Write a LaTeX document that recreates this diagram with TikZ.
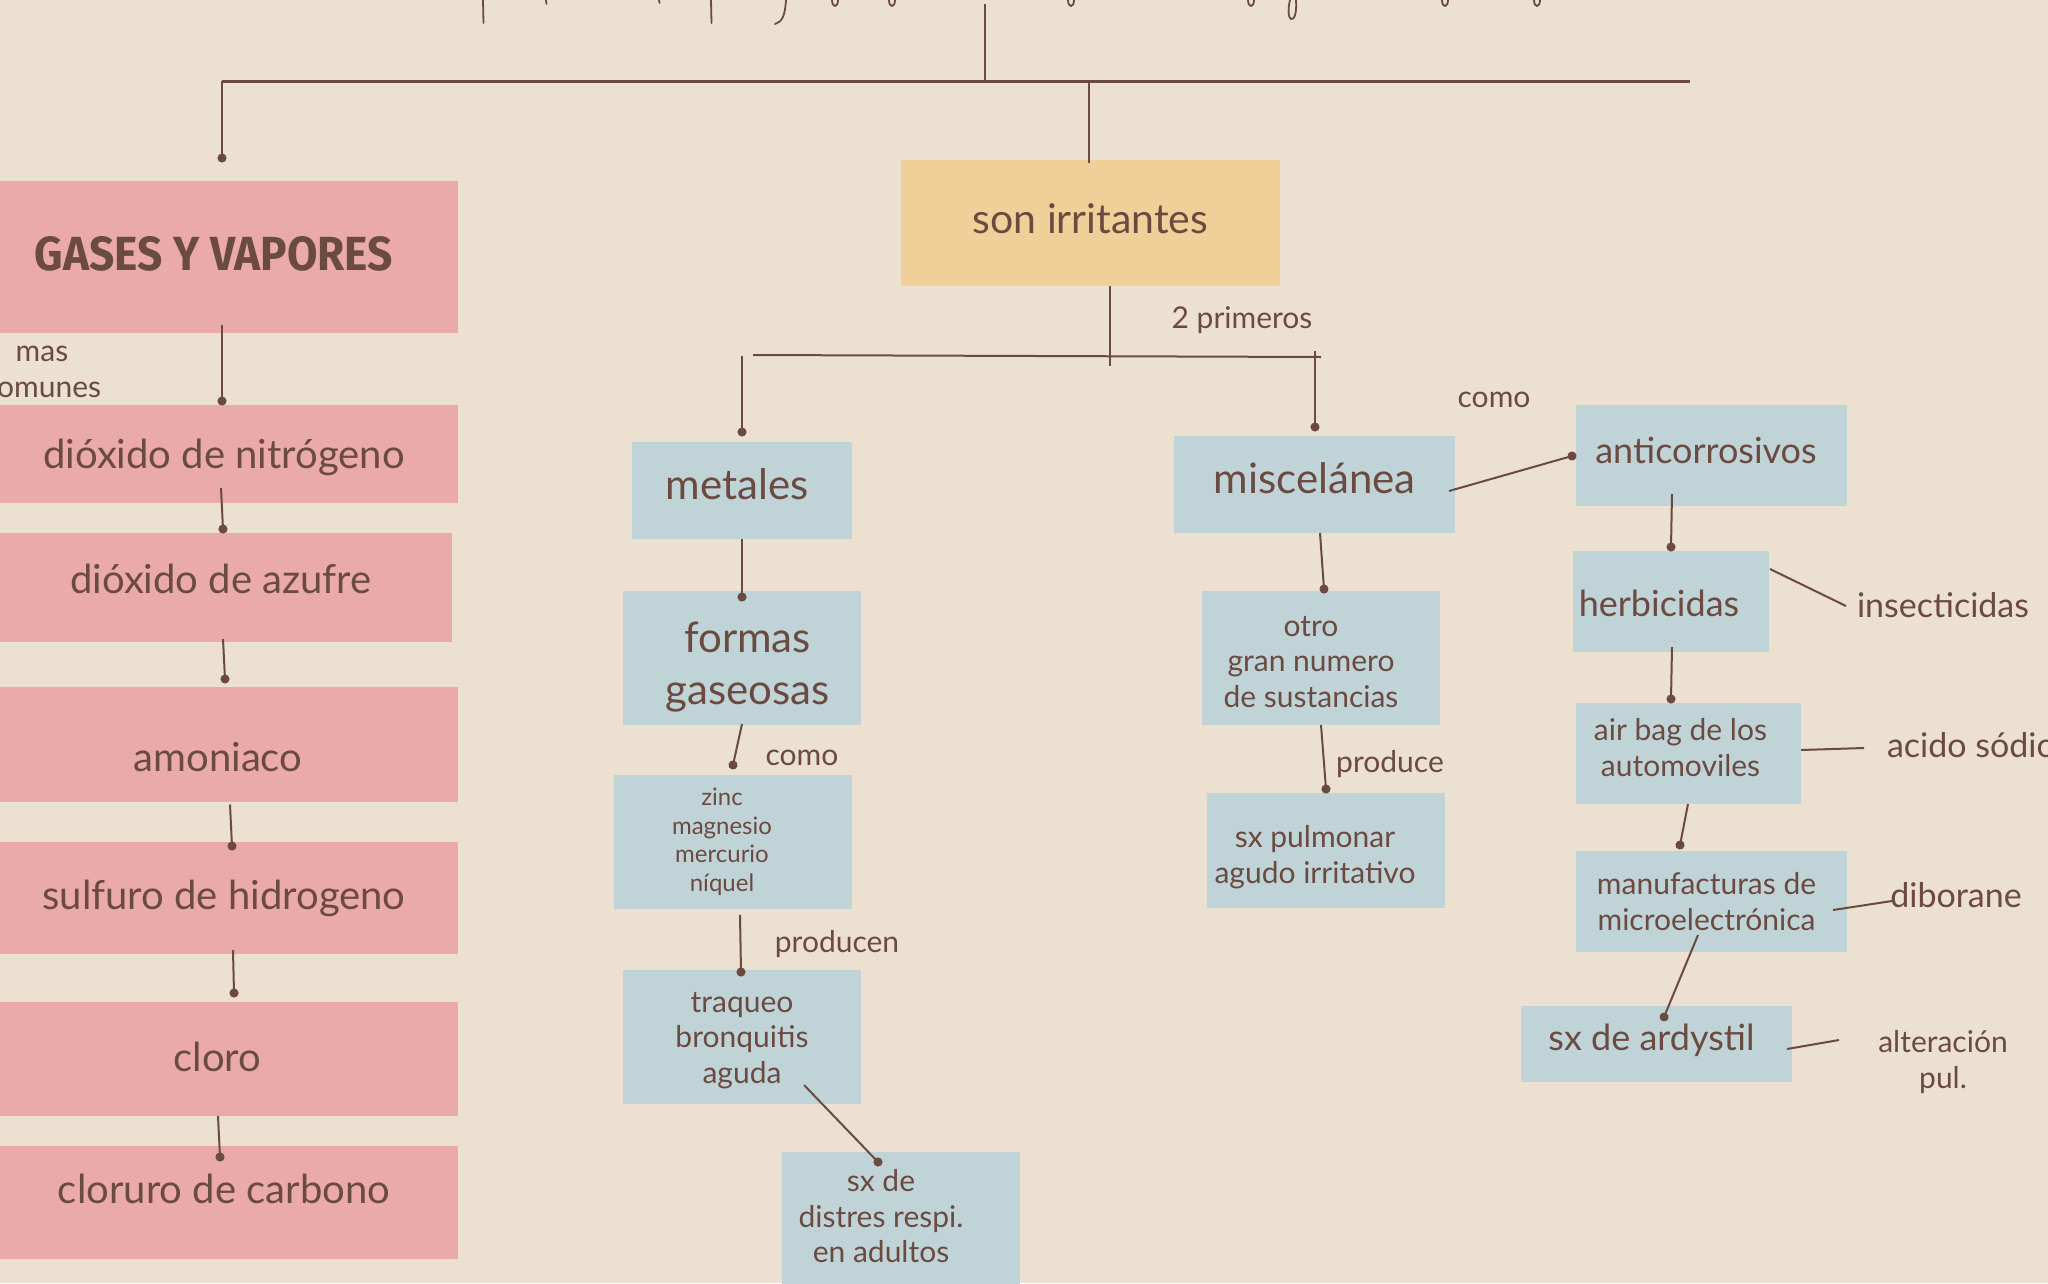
\documentclass[tikz,border=0pt]{standalone}
\usepackage{fontspec}
\setmainfont{Lato}
\newfontfamily\headfont{Fira Sans}
\usetikzlibrary{arrows.meta}
\definecolor{bgc}{HTML}{ECE0D0}
\definecolor{pinkc}{HTML}{EAAAA8}
\definecolor{bluec}{HTML}{C0D4D7}
\definecolor{yelc}{HTML}{EFD098}
\definecolor{ink}{HTML}{6B4A42}
\newcommand\fsPink{\fontsize{40}{48}\selectfont}
\newcommand\fsSon{\fontsize{41}{48}\selectfont}
\newcommand\fsBig{\fontsize{42}{52}\selectfont}
\newcommand\fsMid{\fontsize{36}{43}\selectfont}
\newcommand\fsIns{\fontsize{34}{40}\selectfont}
\newcommand\fsBox{\fontsize{30}{35.5}\selectfont}
\newcommand\fsLab{\fontsize{30}{36}\selectfont}
\newcommand\fsZinc{\fontsize{24}{28.5}\selectfont}
\tikzset{
  every node/.style={text=ink, inner sep=0pt, outer sep=0pt},
  pinkbox/.style={fill=pinkc, font=\fsPink, minimum width=468},
  bluebox/.style={fill=bluec, align=center},
  lbl/.style={font=\fsLab, align=center},
  conn/.style={draw=ink, line width=2pt},
  dotc/.style={conn, -{Circle[length=9pt,width=9pt]}, shorten >=-4.5pt},
  scribble/.style={draw=ink, line width=1.8pt, line cap=round},
}
\begin{document}
\begin{tikzpicture}[x=1pt,y=-1pt]
\useasboundingbox (0,0) rectangle (2048,1283);
\fill[bgc] (0,0) rectangle (2048,1283);
\clip (0,0) rectangle (2048,1283);

% descenders of the (cut off) handwritten title
\draw[scribble] (483,0) -- (483.5,23);
\draw[scribble] (546,0) -- (546.5,4);
\draw[scribble] (659,0) -- (659.5,3);
\draw[scribble] (711,0) -- (711.5,23);
\draw[scribble] (786,0) .. controls (785,16) and (782,22) .. (775,24);
\foreach \xx in {835,892,1071,1251,1445,1537}
  \draw[scribble] (\xx-3,0) .. controls (\xx-3,8) and (\xx+3,8) .. (\xx+3,0);
\draw[scribble] (1296,0) .. controls (1297,14) and (1294,20) .. (1291,19) .. controls (1288,18) and (1288,8) .. (1290,0);

% coordinates of the bars
\coordinate (ttop) at (985,4);
\coordinate (tbar) at (985,81);
\coordinate (barL) at (222,81);
\coordinate (barR) at (1690,81);
\coordinate (barS) at (1089,81);
\coordinate (brL) at (753,355);
\coordinate (brR) at (1321,357);
\coordinate (brX) at (1110,366);
\coordinate (brLv) at (742,356);
\coordinate (brRv) at (1315,351);

% left column
\node[pinkbox, minimum height=152, text height=43pt, text depth=17pt] (gases) at (224,257)
  {\hspace*{-20pt}\resizebox{358pt}{34pt}{\headfont\bfseries GASES Y VAPORES}};
\node[pinkbox, minimum height=98, text height=44pt, text depth=16pt] (n1) at (224,454) {dióxido de nitrógeno};
\node[pinkbox, minimum width=462, minimum height=109, text height=35.5pt, text depth=24.5pt] (n2) at (221,587.5) {dióxido de azufre};
\node[pinkbox, minimum height=115, text height=57pt, text depth=3pt] (n3) at (224,744.5) {\hspace*{-12pt}amoniaco};
\node[pinkbox, minimum height=112, text height=41pt, text depth=19pt] (n4) at (224,898) {sulfuro de hidrogeno};
\node[pinkbox, minimum height=114, text height=42pt, text depth=18pt] (n5) at (224,1059) {\hspace*{-13pt}cloro};
\node[pinkbox, minimum height=113, text height=30.5pt, text depth=29.5pt] (n6) at (224,1202.5) {cloruro de carbono};
\node[lbl] (mascom) at (42,372) {mas\\comunes};

% centre
\node[fill=yelc, font=\fsSon, minimum width=379, minimum height=126, text height=40pt, text depth=20pt] (son) at (1090.5,223) {son irritantes};
\node[lbl, anchor=base] (dosp) at (1242,328) {2 primeros};

\node[bluebox, font=\fsBig, minimum width=220, minimum height=97, text height=38.5pt, text depth=21.5pt] (metales) at (742,490.5) {\hspace*{-10pt}metales};
\node[bluebox, font=\fsBig, minimum width=238, minimum height=134] (formas) at (742,658)
  {\rule{0pt}{48pt}\hspace*{11pt}formas\\\hspace*{11pt}gaseosas};
\node[lbl, anchor=base] (como2) at (802,765) {como};
\node[bluebox, font=\fsZinc, minimum width=238, minimum height=134] (zinc) at (733,842)
  {\hspace*{-22pt}zinc\\\hspace*{-22pt}magnesio\\\hspace*{-22pt}mercurio\\\hspace*{-22pt}níquel};
\node[lbl, anchor=base] (producen) at (837,952) {producen};
\node[bluebox, font=\fsBox, minimum width=238, minimum height=134] (traq) at (742,1037)
  {\rule{0pt}{27pt}traqueo\\bronquitis\\aguda};
\node[bluebox, font=\fsBox, minimum width=238, minimum height=138] (sxd) at (901,1221)
  {\hspace*{-40pt}sx de\\\hspace*{-40pt}distres respi.\\\hspace*{-40pt}en adultos\rule[-10pt]{0pt}{10pt}};

\node[bluebox, font=\fsBig, minimum width=281, minimum height=97, text height=38.5pt, text depth=21.5pt] (misc) at (1314.5,484.5) {miscelánea};
\node[bluebox, font=\fsBox, minimum width=238, minimum height=134] (otro) at (1321,658)
  {\rule{0pt}{28pt}\hspace*{-20pt}otro\\\hspace*{-20pt}gran numero\\\hspace*{-20pt}de sustancias};
\node[lbl, anchor=base] (produce) at (1390,772) {produce};
\node[bluebox, font=\fsBox, minimum width=238, minimum height=115] (sxpul) at (1326,850.5)
  {\rule{0pt}{35pt}\hspace*{-22pt}sx pulmonar\\\hspace*{-22pt}agudo irritativo};

% right column
\node[lbl, anchor=base] (como1) at (1494,407) {como};
\node[bluebox, font=\fsMid, minimum width=271, minimum height=101, text height=37.5pt, text depth=22.5pt] (anti) at (1711.5,455.5) {\hspace*{-11pt}anticorrosivos};
\node[bluebox, font=\fsMid, minimum width=196, minimum height=101, text height=44.5pt, text depth=15.5pt] (herb) at (1671,601.5) {\hspace*{-24pt}herbicidas};
\node[lbl, font=\fsIns, anchor=base] (insect) at (1943,617) {insecticidas};
\node[bluebox, font=\fsBox, minimum width=225, minimum height=101] (airbag) at (1688.5,753.5)
  {\hspace*{-16pt}air bag de los\\\hspace*{-16pt}automoviles\rule[-12pt]{0pt}{12pt}};
\node[lbl, font=\fsIns, anchor=base west] (acido) at (1887,757) {acido sódico};
\node[bluebox, font=\fsBox, minimum width=271, minimum height=101] (manuf) at (1711.5,901.5)
  {\hspace*{-10pt}manufacturas de\\\hspace*{-10pt}microelectrónica};
\node[lbl, font=\fsIns, anchor=base] (dibor) at (1956,907) {diborane};
\node[bluebox, font=\fsMid, minimum width=271, minimum height=76, text height=36pt, text depth=24pt] (ardy) at (1656.5,1044) {\hspace*{-10pt}sx de ardystil};
\node[lbl] (alter) at (1943,1062) {alteración\\pul.};

% connectors
\draw[conn, line width=1.5pt] (ttop) -- (tbar);
\draw[ink, line width=3pt] (barL) -- (barR);
\draw[dotc] (barL) -- ([shift={(-2,-99)}]gases.center);
\draw[conn] (barS) -- ([shift={(-1.5,-60)}]son.center);
\draw[dotc] ([shift={(-2,68)}]gases.center) -- ([shift={(-2,-53)}]n1.center);
\draw[dotc] ([shift={(-3,34)}]n1.center) -- ([shift={(2,-58.5)}]n2.center);
\draw[dotc] ([shift={(2,51.5)}]n2.center) -- ([shift={(1,-65.5)}]n3.center);
\draw[dotc] ([shift={(6,60)}]n3.center) -- ([shift={(8,-52)}]n4.center);
\draw[dotc] ([shift={(9,52)}]n4.center) -- ([shift={(10,-66)}]n5.center);
\draw[dotc] ([shift={(-6,57)}]n5.center) -- ([shift={(-4,-45.5)}]n6.center);

\draw[conn] ([shift={(19.5,63)}]son.center) -- (brX);
\draw[conn] (brL) -- (brR);
\draw[dotc] (brLv) -- ([shift={(0,-58.5)}]metales.center);
\draw[dotc] (brRv) -- ([shift={(0.5,-57.5)}]misc.center);
\draw[dotc] ([shift={(0,48.5)}]metales.center) -- ([shift={(0,-61)}]formas.center);
\draw[dotc] ([shift={(0,66)}]formas.center) -- ([shift={(0,-77)}]zinc.center);
\draw[dotc] ([shift={(7,73)}]zinc.center) -- ([shift={(-1,-65)}]traq.center);
\draw[dotc] ([shift={(62,48)}]traq.center) -- ([shift={(-23,-59)}]sxd.center);

\draw[dotc] ([shift={(134.5,6.5)}]misc.center) -- ([shift={(-139.5,0.5)}]anti.center);
\draw[dotc] ([shift={(-39.5,38.5)}]anti.center) -- ([shift={(0,-54.5)}]herb.center);
\draw[conn] ([shift={(99,-32.5)}]herb.center) -- ([shift={(-97,-11)}]insect.base);
\draw[dotc] ([shift={(1,45.5)}]herb.center) -- ([shift={(-17.5,-54.5)}]airbag.center);
\draw[conn] ([shift={(112.5,-3.5)}]airbag.center) -- ([shift={(-23,-9)}]acido.base west);
\draw[dotc] ([shift={(-0.5,50.5)}]airbag.center) -- ([shift={(-31.5,-56.5)}]manuf.center);
\draw[conn] ([shift={(121.5,8.5)}]manuf.center) -- ([shift={(-64,-6)}]dibor.base);
\draw[dotc] ([shift={(-13.5,33.5)}]manuf.center) -- ([shift={(7.5,-27)}]ardy.center);
\draw[conn] ([shift={(130.5,5)}]ardy.center) -- ([shift={(-104,-22)}]alter.center);

\draw[dotc] ([shift={(5.5,48.5)}]misc.center) -- ([shift={(3,-69)}]otro.center);
\draw[dotc] ([shift={(0,67)}]otro.center) -- ([shift={(0,-61.5)}]sxpul.center);
\end{tikzpicture}
\end{document}
